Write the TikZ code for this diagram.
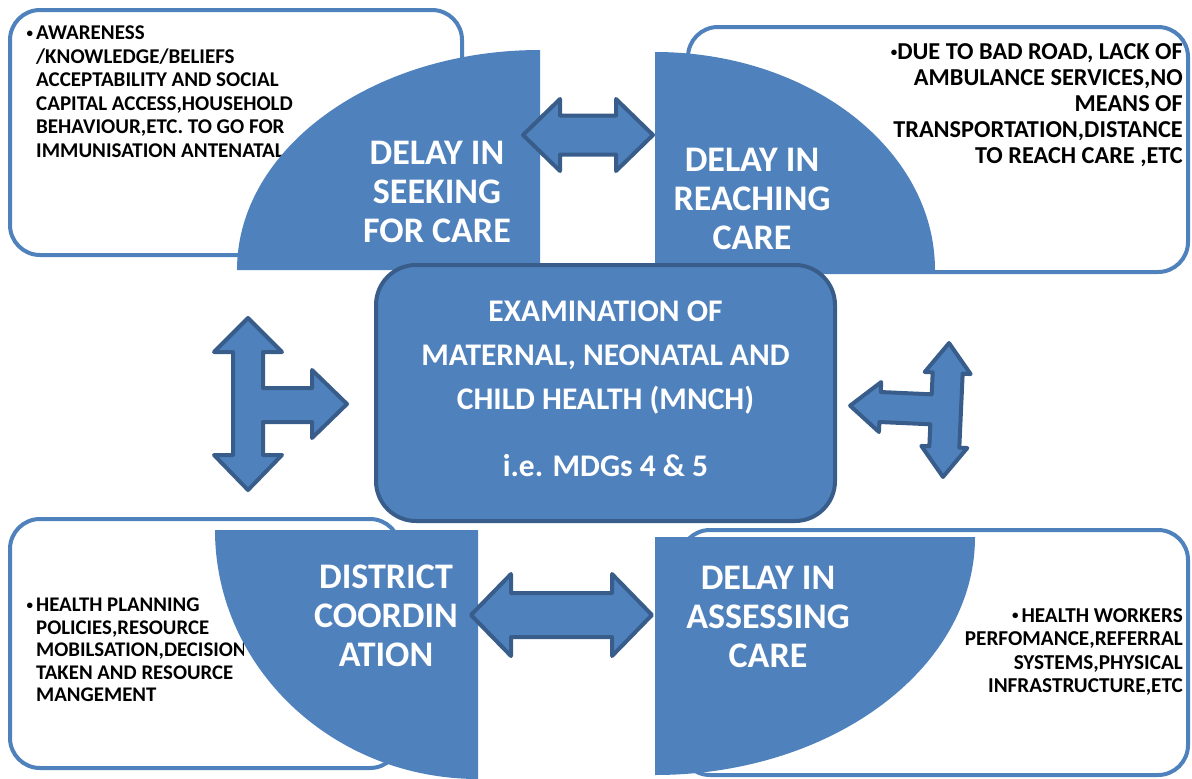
\documentclass[tikz,border=0pt]{standalone}
\usepackage{fontspec}
\setmainfont{Carlito}
\definecolor{mnchblue}{RGB}{79,129,189}
\definecolor{mnchedge}{RGB}{56,93,138}
\newcommand{\notebullet}{\raisebox{2.5pt}{\fontsize{13}{13}\selectfont\textbullet}}

\tikzset{
  box outline/.style={draw=mnchblue, line width=4pt, rounded corners=30pt},
  quarter label/.style={text=white, align=center, inner sep=0pt,
    font=\fontsize{36}{39}\selectfont\bfseries},
  block arrow/.style={fill=mnchblue, draw=mnchedge, line width=4pt, line join=round},
}

\begin{document}
\begin{tikzpicture}[x=1pt,y=-1pt]
        \useasboundingbox (0,0) rectangle (1192,779);

        % outlined boxes, partly hidden by the quarters
        \draw[box outline] (10,10) rectangle (462,255);
        \draw[box outline] (688,27) rectangle (1188,272);
        \draw[box outline] (10,519) rectangle (400,768);
        \draw[box outline] (680,530) rectangle (1188,775);

        % bullet notes
        \node[anchor=north west, align=left, inner sep=0pt, font=\fontsize{21}{23.5}\selectfont\bfseries] (seeknote) at (36,26)
            {\llap{\notebullet\hspace{3pt}}AWARENESS\\/KNOWLEDGE/BELIEFS\\ACCEPTABILITY AND SOCIAL\\CAPITAL ACCESS,HOUSEHOLD\\BEHAVIOUR,ETC. TO GO FOR\\IMMUNISATION ANTENATAL};
        \begin{scope}
            % last letter of DECISION is cut off
            \clip (0,500) rectangle (243,779);
            \node[anchor=north west, align=left, inner sep=0pt, font=\fontsize{20.8}{22.5}\selectfont\bfseries] (districtnote) at (36,598)
                {\llap{\notebullet\hspace{3pt}}HEALTH PLANNING\\POLICIES,RESOURCE\\MOBILSATION,DECISION\\TAKEN AND RESOURCE\\MANGEMENT};
        \end{scope}
        \node[anchor=north east, align=right, inner sep=0pt, font=\fontsize{24.3}{26}\selectfont\bfseries] (reachnote) at (1183,43)
            {\notebullet DUE TO BAD ROAD, LACK OF\\AMBULANCE SERVICES,NO\\MEANS OF\\TRANSPORTATION,DISTANCE\\TO REACH CARE ,ETC};
        \node[anchor=north east, align=right, inner sep=0pt, font=\fontsize{21.2}{23.5}\selectfont\bfseries] (assessnote) at (1183,608)
            {\notebullet\hspace{3pt}HEALTH WORKERS\\PERFOMANCE,REFERRAL\\SYSTEMS,PHYSICAL\\INFRASTRUCTURE,ETC};

        % the four quarters
        \fill[mnchblue] (540,50) -- (540,270) -- (237,270) arc[start angle=180, end angle=270, x radius=303, y radius=220] -- cycle;
        \fill[mnchblue] (655,52) -- (655,270) -- (935,270) arc[start angle=0, end angle=-90, x radius=280, y radius=218] -- cycle;
        \fill[mnchblue] (478,779) -- (478,530) -- (215,530) arc[start angle=180, end angle=90, x radius=263, y radius=249] -- cycle;
        \fill[mnchblue] (655,775) -- (655,537) -- (975,537) arc[start angle=0, end angle=90, x radius=320, y radius=238] -- cycle;

        \node[quarter label] (seek) at (437,192) {DELAY IN\\SEEKING\\FOR CARE};
        \node[quarter label] (reach) at (752,199) {DELAY IN\\REACHING\\CARE};
        \node[quarter label] (district) at (386,616) {DISTRICT\\COORDIN\\ATION};
        \node[quarter label] (assess) at (768,617) {DELAY IN\\ASSESSING\\CARE};

        % centre box
        \node[draw=mnchedge, fill=mnchblue, line width=4pt, rounded corners=40pt, minimum width=459pt, minimum height=256pt] (mnch) at (605.5,393) {};
        \node[text=white, align=center, inner sep=0pt, font=\fontsize{31.5}{44}\selectfont\bfseries] (mnchtext) at ([yshift=4pt]mnch.center)
            {EXAMINATION OF\\MATERNAL, NEONATAL AND\\CHILD HEALTH (MNCH)\\[23pt]i.e. MDGs 4 \& 5};

        % double arrows between the quarters
        \foreach \xa/\xb/\ym/\hh/\sh/\hl in {523/653/135/36/19.5/37,471/652/615/41/22/40}{
            \draw[block arrow] (\xa,\ym) -- ({\xa+\hl},{\ym-\hh}) -- ({\xa+\hl},{\ym-\sh}) -- ({\xb-\hl},{\ym-\sh})
                -- ({\xb-\hl},{\ym-\hh}) -- (\xb,\ym) -- ({\xb-\hl},{\ym+\hh}) -- ({\xb-\hl},{\ym+\sh})
                -- ({\xa+\hl},{\ym+\sh}) -- ({\xa+\hl},{\ym+\hh}) -- cycle;
        }

        % three-way arrows at the sides
        \draw[block arrow] (248,318) -- (282,352) -- (263,352) -- (263,388) -- (312,388) -- (312,370) -- (347,404)
            -- (312,438) -- (312,422) -- (263,422) -- (263,455) -- (282,455) -- (248,490) -- (214,455)
            -- (233,455) -- (233,352) -- (214,352) -- cycle;
        \draw[block arrow, rotate around={-2.6:(946,410)}] (946,343) -- (969,373) -- (961,373) -- (961,447) -- (969,447)
            -- (946,477) -- (923,447) -- (931,447) -- (931,425) -- (880,425) -- (880,435) -- (850,410)
            -- (880,385) -- (880,395) -- (931,395) -- (931,373) -- (923,373) -- cycle;
\end{tikzpicture}
\end{document}
